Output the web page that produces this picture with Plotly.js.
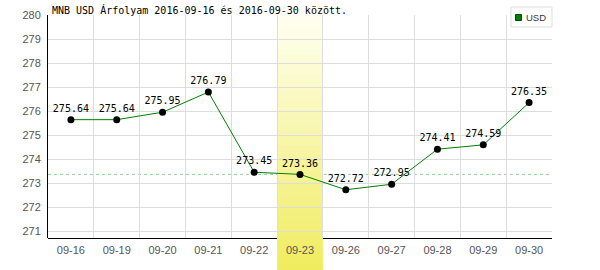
<!DOCTYPE html>
<html><head><meta charset="utf-8">
<script src="https://cdn.plot.ly/plotly-3.0.1.min.js"></script>
<style>html,body{margin:0;padding:0;background:#fff}#chart{width:600px;height:270px}</style>
</head><body><div id="chart"></div>
<script>
const dates = ['09-16','09-19','09-20','09-21','09-22','09-23','09-26','09-27','09-28','09-29','09-30'];
const usdRates = [275.64,275.64,275.95,276.79,273.45,273.36,272.72,272.95,274.41,274.59,276.35];
const seriesName = 'USD';
const highlightDate = '09-23';
const yTicks = [271,272,273,274,275,276,277,278,279,280];
const titleText = 'MNB USD Árfolyam 2016-09-16 és 2016-09-30 között.';

const labels = usdRates.map(v => v.toFixed(2));

const W = 600, H = 270, L = 48, R = 48, T = 15, B = 32;
const plotW = W - L - R, plotH = H - T - B;
const px = x => (x - L) / plotW;
const py = y => (H - B - y) / plotH;

const hi = dates.indexOf(highlightDate);
const shapes = [];
// bottom axis line (drawn below the highlight band)
shapes.push({type:'line', xref:'paper', yref:'paper', x0:0, x1:1, y0:py(238.5), y1:py(238.5),
  line:{color:'#000', width:1}, layer:'below'});
// dashed reference line at highlighted day's value
shapes.push({type:'line', xref:'paper', yref:'y', x0:0, x1:1, y0:usdRates[hi], y1:usdRates[hi],
  line:{color:'#99cc99', width:1, dash:'3px,3px'}, layer:'between'});
// highlight band gradient
const cTop = [255,255,242], cBot = [240,236,94];
const N = 51;
for (let i = 0; i < N; i++) {
  const f = (i + 0.5) / N;
  const c = cTop.map((v, k) => Math.round(v + (cBot[k] - v) * f));
  const ya = T + (H - T) * i / N;
  const yb = T + (H - T) * (i + 1) / N + (i < N - 1 ? 1 : 0);
  shapes.push({type:'rect', xref:'x', yref:'paper', x0:hi - 0.5, x1:hi + 0.5,
    y0:py(yb), y1:py(ya), fillcolor:`rgb(${c[0]},${c[1]},${c[2]})`, line:{width:0}, layer:'between'});
}
// legend box
shapes.push({type:'rect', xref:'paper', yref:'paper', x0:px(511), x1:px(552), y0:py(27), y1:py(7),
  fillcolor:'#fff', line:{color:'#dddddd', width:1}, layer:'above'});
shapes.push({type:'rect', xref:'paper', yref:'paper', x0:px(515.5), x1:px(521.5), y0:py(20.5), y1:py(14.5),
  fillcolor:'#008000', line:{color:'#004d00', width:1}, layer:'above'});

const trace = {
  type:'scatter', mode:'lines+markers+text', x:dates, y:usdRates, name:seriesName,
  text:labels, textposition:'top center',
  textfont:{family:'DejaVu Sans Mono', size:10, color:'#000'},
  line:{color:'#008000', width:1},
  marker:{color:'#000', size:7},
  cliponaxis:false, hoverinfo:'none', showlegend:false
};

const layout = {
  width:W, height:H,
  margin:{l:L, r:R, t:T, b:B, pad:0},
  paper_bgcolor:'#fff', plot_bgcolor:'#fff',
  showlegend:false,
  title:{text:titleText, xref:'container', yref:'container', x:52/W, xanchor:'left',
    y:1 - 10/H, yanchor:'middle', font:{family:'DejaVu Sans Mono', size:10, color:'#000'}},
  xaxis:{type:'category', range:[-0.5, dates.length - 0.5], tickson:'boundaries',
    showgrid:true, gridcolor:'#dddddd', gridwidth:1, showline:false, zeroline:false, ticks:'',
    tickfont:{family:'Liberation Sans', size:11, color:'#555'}, ticklabelstandoff:4, fixedrange:true},
  yaxis:{range:[270.71, 280], tickvals:yTicks, showgrid:true, gridcolor:'#dddddd', gridwidth:1,
    showline:true, linecolor:'#000', linewidth:1, zeroline:false, ticks:'',
    tickfont:{family:'Liberation Sans', size:11, color:'#555'}, ticklabelstandoff:4, fixedrange:true},
  shapes:shapes,
  annotations:[{xref:'paper', yref:'paper', x:px(523.5), y:py(17.5), xanchor:'left', yanchor:'middle',
    text:seriesName, showarrow:false, font:{family:'Liberation Sans', size:9.5, color:'#333'}}]
};

Plotly.newPlot('chart', [trace], layout, {staticPlot:true, displayModeBar:false});
</script>
</body></html>
